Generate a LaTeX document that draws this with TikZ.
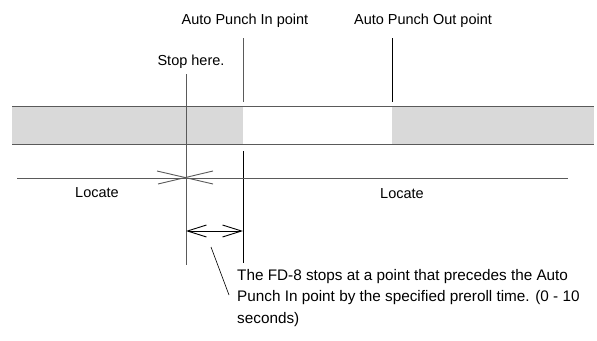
\documentclass[tikz,border=0pt]{standalone}
\usepackage{fontspec}
\setmainfont{Liberation Sans}
\usepackage{tikz}
\usetikzlibrary{arrows.meta,positioning}
\definecolor{bandgray}{HTML}{D9D9D9}
\definecolor{linegray}{HTML}{5A5A5A}

\begin{document}
\begin{tikzpicture}[x=1pt, y=-1pt,
    txt/.style={inner sep=0pt, font=\fontsize{14.5}{21.5}\selectfont},
    rule/.style={line width=0.9pt, color=linegray},
    markline/.style={line width=0.9pt, color=black},
    span/.style={markline, {Straight Barb[length=19pt, width=12pt, line width=0.9pt]}-{Straight Barb[length=19pt, width=12pt, line width=0.9pt]}}
]
\useasboundingbox (0,0) rectangle (597,340);

% --- points ---
\coordinate (stopT) at (186,74);
\coordinate (stopB) at (186,265);
\coordinate (inT)   at (243,38);
\coordinate (inM)   at (243,102);
\coordinate (inN)   at (243,151);
\coordinate (inB)   at (243,263);
\coordinate (outT)  at (392,38);
\coordinate (outB)  at (392,102);
\coordinate (locL)  at (17,178);
\coordinate (locR)  at (568,178);
\coordinate (locX)  at (186,178);
\coordinate (dimL)  at (186,231);
\coordinate (dimR)  at (243,231);
\coordinate (leadA) at (211,247);
\coordinate (leadB) at (229,295);

% --- track band ---
\fill[bandgray] (12,106) rectangle (243,144);
\fill[bandgray] (392,106) rectangle (594,144);
\draw[rule] (12,106) -- (594,106);
\draw[rule] (12,144) -- (594,144);

% --- labels ---
\node[txt, anchor=base] (pin)  at (245,24.5) {Auto Punch In point};
\node[txt, anchor=base] (pout) at (423,24.5) {Auto Punch Out point};
\node[txt, anchor=base] (stop) at (191,65)   {Stop here.};
\node[txt, anchor=base] (loc1) at (97,197)   {Locate};
\node[txt, anchor=base] (loc2) at (402,198)  {Locate};
\node[txt, anchor=north west, align=left, font=\fontsize{15.3}{21.5}\selectfont] (note) at (237,269)
  {The FD-8 stops at a point that precedes the Auto\\
   Punch In point by the specified preroll time. (0 - 10\\
   seconds)};

% --- markers ---
\draw[rule] (stopT) -- (stopB);
\draw[rule] (inT) -- (inM);
\draw[markline] (inN) -- (inB);
\draw[markline] (outT) -- (outB);

% --- locate and preroll ---
\draw[rule] (locL) -- (locR);
\draw[rule] ([shift={(-29,-7)}]locX) -- ([shift={(27,6)}]locX);
\draw[rule] ([shift={(-28,6)}]locX) -- ([shift={(27,-7)}]locX);
\draw[span] (dimL) -- (dimR);
\draw[markline, line width=0.6pt] (leadA) -- (leadB);

\end{tikzpicture}
\end{document}
